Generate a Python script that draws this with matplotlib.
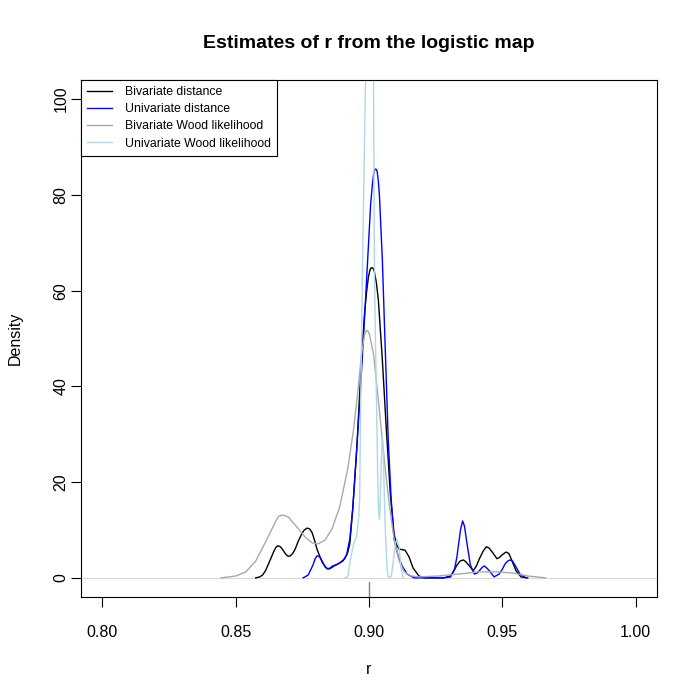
import matplotlib
matplotlib.use("Agg")
import matplotlib.pyplot as plt

plt.rcParams['font.family'] = ['Liberation Sans', 'DejaVu Sans']

# density curves (r, density)
biv_dist_x = [0.8575, 0.8590, 0.8601, 0.8612, 0.8623, 0.8642, 0.8650, 0.8657, 0.8665, 0.8672,
              0.8681, 0.8690, 0.8697, 0.8705, 0.8714, 0.8723, 0.8735, 0.8746, 0.8757, 0.8768,
              0.8778, 0.8787, 0.8796, 0.8805, 0.8824, 0.8842, 0.8853, 0.8864, 0.8877, 0.8890,
              0.8909, 0.8920, 0.8928, 0.8939, 0.8954, 0.8968, 0.8983, 0.8991, 0.8998, 0.9004,
              0.9009, 0.9015, 0.9020, 0.9028, 0.9035, 0.9050, 0.9065, 0.9080, 0.9094, 0.9104,
              0.9113, 0.9124, 0.9135, 0.9150, 0.9165, 0.9187, 0.9209, 0.9280, 0.9306, 0.9318,
              0.9328, 0.9341, 0.9354, 0.9364, 0.9373, 0.9391, 0.9403, 0.9414, 0.9428, 0.9440,
              0.9451, 0.9462, 0.9480, 0.9490, 0.9499, 0.9514, 0.9524, 0.9533, 0.9551, 0.9570,
              0.9595]
biv_dist_y = [0.0, 0.2, 0.6, 1.5, 2.9, 5.4, 6.3, 6.7, 6.6, 6.25,
              5.5, 4.8, 4.5, 4.6, 5.1, 6.0, 7.7, 9.0, 10.0, 10.4,
              10.2, 9.4, 7.8, 6.0, 3.3, 1.9, 1.9, 2.3, 2.7, 3.1,
              4.0, 5.3, 7.1, 14.4, 26.9, 41.5, 55.0, 59.8, 62.9, 64.4,
              64.8, 64.7, 64.0, 61.5, 58.1, 45.6, 31.0, 17.5, 9.2, 6.8,
              6.0, 5.9, 5.8, 4.4, 2.1, 0.4, 0.0, 0.0, 0.4, 1.4,
              2.5, 3.5, 3.75, 3.3, 2.7, 1.5, 2.5, 4.0, 5.6, 6.5,
              6.2, 5.4, 4.0, 4.3, 4.8, 5.4, 5.1, 4.0, 1.5, 0.2,
              0.0]

uni_dist_x = [0.8753, 0.8772, 0.8790, 0.8798, 0.8805, 0.8812, 0.8820, 0.8835, 0.8846, 0.8855,
              0.8864, 0.8883, 0.8902, 0.8916, 0.8928, 0.8939, 0.8954, 0.8968, 0.8983, 0.8995,
              0.9006, 0.9012, 0.9017, 0.9021, 0.9024, 0.9028, 0.9031, 0.9035, 0.9039, 0.9050,
              0.9061, 0.9072, 0.9083, 0.9094, 0.9109, 0.9124, 0.9143, 0.9169, 0.9280, 0.9306,
              0.9321, 0.9330, 0.9336, 0.9343, 0.9351, 0.9358, 0.9365, 0.9380, 0.9395, 0.9405,
              0.9414, 0.9423, 0.9432, 0.9441, 0.9451, 0.9469, 0.9488, 0.9499, 0.9510, 0.9520,
              0.9529, 0.9538, 0.9547, 0.9566, 0.9588]
uni_dist_y = [0.0, 0.6, 2.7, 4.0, 4.6, 4.5, 4.0, 2.3, 1.9, 2.1,
              2.5, 2.9, 3.5, 4.8, 8.1, 14.4, 26.9, 39.4, 54.0, 66.5,
              77.9, 81.8, 84.2, 85.2, 85.4, 85.3, 84.8, 82.8, 80.0, 66.5,
              47.7, 29.0, 16.5, 8.1, 4.6, 2.5, 0.8, 0.0, 0.0, 0.2,
              1.9, 4.5, 7.1, 10.0, 11.9, 10.8, 8.1, 2.7, 0.8, 1.0,
              1.5, 2.1, 2.5, 2.1, 1.5, 0.2, 0.8, 1.7, 2.9, 3.5,
              3.75, 3.5, 2.7, 0.8, 0.0]

biv_wood_x = [0.8445, 0.8501, 0.8538, 0.8575, 0.8612, 0.8649, 0.8660, 0.8672, 0.8685, 0.8698,
              0.8727, 0.8761, 0.8787, 0.8809, 0.8835, 0.8861, 0.8890, 0.8920, 0.8942, 0.8957,
              0.8972, 0.8983, 0.8991, 0.8997, 0.9002, 0.9017, 0.9031, 0.9046, 0.9061, 0.9076,
              0.9094, 0.9113, 0.9132, 0.9158, 0.9187, 0.9261, 0.9336, 0.9410, 0.9484, 0.9540,
              0.9595, 0.9662]
biv_wood_y = [0.0, 0.4, 1.25, 3.5, 7.5, 11.7, 12.8, 13.1, 13.0, 12.7,
              10.8, 8.5, 7.3, 7.1, 7.9, 10.2, 14.8, 22.7, 31.0, 38.3,
              46.7, 50.8, 51.7, 51.5, 50.8, 46.7, 39.4, 31.0, 22.7, 15.4,
              8.1, 3.5, 1.25, 0.4, 0.2, 0.4, 0.8, 1.25, 1.25, 1.0,
              0.4, 0.0]

uni_wood_x = [0.8909, 0.8920, 0.8931, 0.8942, 0.8953, 0.8961, 0.8965, 0.8968, 0.8972, 0.8976,
              0.8987, 0.8994, 0.9002, 0.9009, 0.9017, 0.9020, 0.9024, 0.9028, 0.9033, 0.9036,
              0.9039, 0.9042, 0.9046, 0.9050, 0.9053, 0.9057, 0.9061, 0.9068, 0.9072, 0.9083,
              0.9089, 0.9094, 0.9100, 0.9105, 0.9113, 0.9120, 0.9128]
uni_wood_y = [0.0, 0.2, 4.0, 7.1, 8.5, 12.5, 16.5, 33.0, 50.0, 66.5,
              104.0, 150.0, 180.0, 150.0, 104.0, 66.5, 50.0, 37.5, 20.0, 14.0,
              12.3, 15.5, 24.0, 29.6, 27.0, 18.0, 10.0, 2.0, 0.2, 0.2,
              2.5, 5.0, 7.3, 8.1, 6.5, 2.0, 0.0]

true_r = 0.9

fig = plt.figure(figsize=(7, 7), dpi=100)
ax = fig.add_axes([0.1157, 0.1471, 0.8229, 0.7386])

ax.axhline(0, color='#d9d9d9', lw=0.8, zorder=1)
ax.plot(biv_dist_x, biv_dist_y, color='black', lw=1.0, label='Bivariate distance')
ax.plot(uni_dist_x, uni_dist_y, color='blue', lw=1.0, label='Univariate distance')
ax.plot(biv_wood_x, biv_wood_y, color='darkgray', lw=1.0, label='Bivariate Wood likelihood')
ax.plot(uni_wood_x, uni_wood_y, color='lightblue', lw=1.0, label='Univariate Wood likelihood')
# rug mark for the true value
ax.plot([true_r, true_r], [0, 0.03], transform=ax.get_xaxis_transform(),
        color='gray', lw=1.0, clip_on=False)

ax.set_xlim(0.792, 1.008)
ax.set_ylim(-4, 104)
ax.set_xticks([0.80, 0.85, 0.90, 0.95, 1.00])
ax.set_xticklabels(['0.80', '0.85', '0.90', '0.95', '1.00'])
ax.set_yticks([0, 20, 40, 60, 80, 100])
ax.set_yticklabels(['0', '20', '40', '60', '80', '100'], rotation=90, va='center')
ax.tick_params(length=7, width=0.8, labelsize=11.5)
ax.tick_params(axis='x', pad=13)
ax.tick_params(axis='y', pad=2)
for s in ax.spines.values():
    s.set_linewidth(0.8)

ax.set_xlabel('r', fontsize=11.5, labelpad=16)
ax.set_ylabel('Density', fontsize=11.5, labelpad=22)
ax.set_title('Estimates of r from the logistic map', fontsize=14, fontweight='bold', pad=23)

leg = ax.legend(loc='upper left', borderaxespad=0, fancybox=False, fontsize=8.8,
                handlelength=2.0, handletextpad=1.1, labelspacing=0.42,
                borderpad=0.5, framealpha=1)
leg.get_frame().set_edgecolor('black')
leg.get_frame().set_linewidth(0.8)

plt.savefig('out.png', dpi=100)
